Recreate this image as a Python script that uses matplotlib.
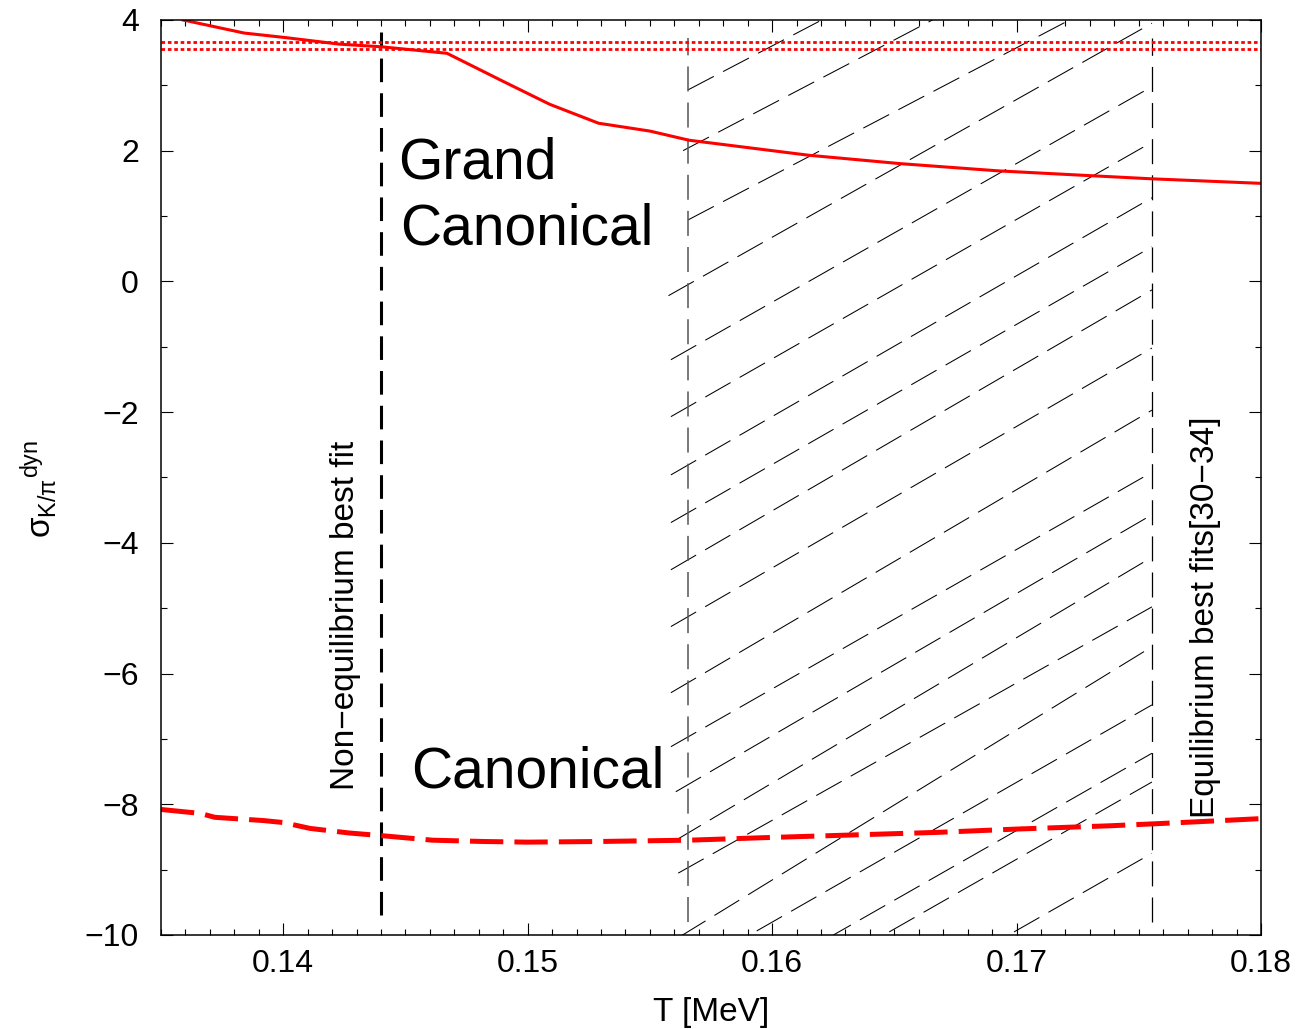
"""sigma_dyn(K/pi) vs freeze-out temperature, canonical vs grand canonical."""

import matplotlib
matplotlib.use("Agg")
import matplotlib.pyplot as plt
from matplotlib.ticker import MultipleLocator

plt.rcParams["font.family"] = ["Liberation Sans", "DejaVu Sans"]
plt.rcParams["mathtext.fontset"] = "custom"
plt.rcParams["mathtext.rm"] = "Liberation Sans"
plt.rcParams["mathtext.it"] = "Liberation Sans"
plt.rcParams["lines.scale_dashes"] = False

# grand canonical curve (solid)
T_gc = [0.1359, 0.1384, 0.1401, 0.1423, 0.1440, 0.1467, 0.1490, 0.1509, 0.1529,
        0.1550, 0.1566, 0.1615, 0.1653, 0.1693, 0.1729, 0.1755, 0.1800]
sig_gc = [4.00, 3.80, 3.73, 3.63, 3.59, 3.49, 3.06, 2.71, 2.42,
          2.30, 2.16, 1.93, 1.80, 1.69, 1.62, 1.57, 1.50]

# canonical curve (dashed)
T_c = [0.1350, 0.1366, 0.1372, 0.1392, 0.1400, 0.1411, 0.1427, 0.1440, 0.1461, 0.1482,
       0.1500, 0.1529, 0.1566, 0.1598, 0.1633, 0.1668, 0.1700, 0.1738, 0.1756, 0.1773, 0.1800]
sig_c = [-8.08, -8.14, -8.20, -8.25, -8.28, -8.37, -8.44, -8.48, -8.55, -8.57,
         -8.58, -8.57, -8.55, -8.51, -8.47, -8.43, -8.38, -8.33, -8.30, -8.27, -8.22]

# experimental band (red dotted)
sig_data = [3.66, 3.56]

# best-fit temperatures
T_noneq = 0.1440
T_eq_band = (0.15656, 0.17554)

# hatching of the equilibrium band: sigma at left / right band edge
hatch_left = [2.93, 2.04, 0.94, -0.05, -1.05, -1.92, -2.81, -3.54, -4.26, -5.13,
              -6.14, -6.97, -7.70, -8.44, -8.97, -9.95, -10.54, -11.27, -11.71, -12.80]
hatch_right = [6.64, 5.76, 4.66, 3.95, 2.98, 2.13, 1.28, 0.53, -0.13, -1.02,
               -1.97, -2.92, -3.57, -4.22, -4.98, -5.59, -6.48, -7.22, -7.66, -8.75]
hatch_ext = [0, 0.0002, 0, 0.0008, 0.0007, 0.0007, 0.0007, 0.0007, 0.0007, 0.0007,
             0.0007, 0.0007, 0.0005, 0.0005, 0.0004, 0.0003, 0, 0, 0, 0]

fig = plt.figure(figsize=(13.09, 10.29), dpi=100)
ax = fig.add_axes([0.123, 0.0914, 0.8403, 0.8892])

# hatch lines
tl, tr = T_eq_band
for sl, sr, ext in zip(hatch_left, hatch_right, hatch_ext):
    slope = (sr - sl) / (tr - tl)
    ax.plot([tl - ext, tr], [sl - slope * ext, sr], color="black", lw=0.75,
            dashes=(21, 7.5))

# band edges
ax.plot([tl, tl], [-9.8, 3.72], color="#555555", lw=1.1, dashes=(18, 8))
ax.plot([tr, tr], [-9.8, 3.72], color="black", lw=0.9, dashes=(18, 8))

# non-equilibrium best fit
ax.plot([T_noneq, T_noneq], [-9.7, 3.82], color="black", lw=2.2, dashes=(17, 8))

for s in sig_data:
    ax.axhline(s, color="red", lw=2.0, dashes=(2.6, 2.0))

ax.plot(T_gc, sig_gc, color="red", lw=2.2)
ax.plot(T_c, sig_c, color="red", lw=3.6, dashes=(24, 8))

ax.text(0.1447, 1.58, "Grand", fontsize=41, va="baseline")
ax.text(0.1448, 0.56, "Canonical", fontsize=41, va="baseline")
ax.text(0.14525, -7.74, "Canonical", fontsize=41, va="baseline")
ax.text(0.14255, -7.78, "Non\u2212equilibrium best fit", fontsize=24, rotation=90,
        ha="center", va="bottom")
ax.text(0.17775, -8.21, "Equilibrium best fits[30\u221234]", fontsize=24, rotation=90,
        ha="center", va="bottom")

ax.set_xlim(0.135, 0.18)
ax.set_ylim(-10, 4)
ax.xaxis.set_major_locator(MultipleLocator(0.01))
ax.xaxis.set_minor_locator(MultipleLocator(0.001))
ax.yaxis.set_major_locator(MultipleLocator(2))
ax.yaxis.set_minor_locator(MultipleLocator(1))
ax.tick_params(which="both", direction="in", top=True, right=True, width=0.8)
ax.tick_params(which="major", length=8.6, labelsize=23)
ax.tick_params(which="minor", length=4.3)
ax.tick_params(axis="x", pad=10)
ax.tick_params(axis="y", pad=16)
for sp in ax.spines.values():
    sp.set_linewidth(1.1)

ax.set_xlabel("T [MeV]", fontsize=24, labelpad=13)
ax.set_ylabel(r"$\sigma_{\mathrm{K/\pi}}{}^{\mathrm{dyn}}$", fontsize=24)
ax.yaxis.set_label_coords(-0.092, 0.488)

fig.savefig("out.png", dpi=100)
